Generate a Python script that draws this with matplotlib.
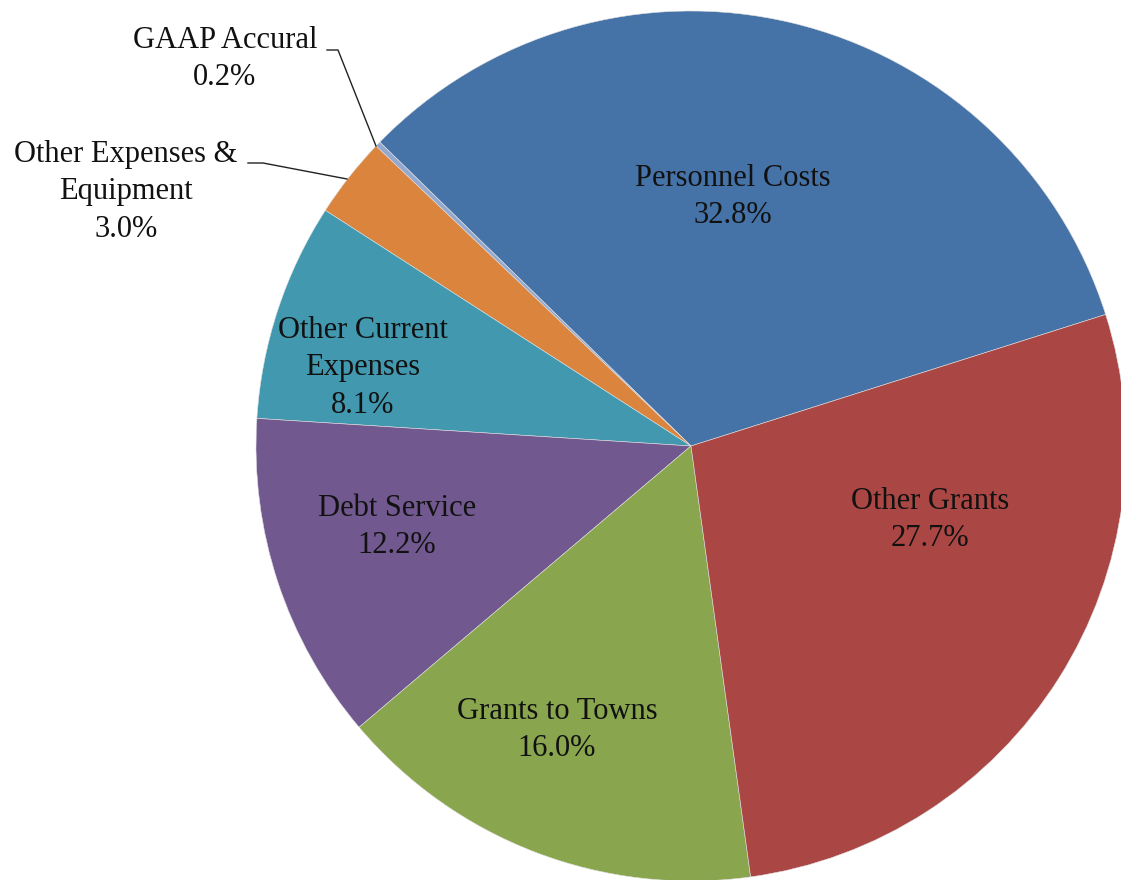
import matplotlib.pyplot as plt

labels = ['Personnel Costs', 'GAAP Accural', 'Other Expenses &\nEquipment',
          'Other Current\nExpenses', 'Debt Service', 'Grants to Towns', 'Other Grants']
shares = [32.8, 0.2, 3.0, 8.1, 12.2, 16.0, 27.7]
colors = ['#4572A7', '#93A9CF', '#DB843D', '#4198AF', '#71588F', '#89A54E', '#AA4643']

W, H = 1121, 880
cx, cy, R = 691, 446, 435


def px(x, y):
    # pixel position in the reference -> data units (pie radius = 1)
    return (x - cx) / R, (cy - y) / R


fig = plt.figure(figsize=(W / 100, H / 100), dpi=100)
ax = fig.add_axes([0, 0, 1, 1])
plt.rcParams['font.family'] = ['Liberation Serif', 'DejaVu Serif']

ax.pie(shares, colors=colors, startangle=17.6, counterclock=True,
       wedgeprops=dict(linewidth=0.4, edgecolor='#e0e0e0'))
ax.set_xlim(-cx / R, (W - cx) / R)
ax.set_ylim(-(H - cy) / R, cy / R)
ax.set_aspect('equal')
ax.axis('off')

fs = 22
ls = 1.4
# inside labels
inside = {0: (733, 197), 6: (930, 520), 5: (557, 730), 4: (397, 527), 3: (363, 368)}
for i, (x, y) in inside.items():
    ax.text(*px(x, y), '%s\n%.1f%%' % (labels[i], shares[i]), ha='center', va='center',
            fontsize=fs, linespacing=ls, color='#111111')

# outside labels with leader lines
ax.text(*px(225, 59), '%s\n%.1f%%' % (labels[1], shares[1]), ha='center', va='center',
        fontsize=fs, linespacing=ls, color='#111111')
ax.plot(*zip(px(327, 50), px(338, 50), px(376, 146)), color='#222222', lw=1)

ax.text(*px(126, 192), '%s\n%.1f%%' % (labels[2], shares[2]), ha='center', va='center',
        fontsize=fs, linespacing=ls, color='#111111')
ax.plot(*zip(px(248, 163), px(263, 163), px(347, 179)), color='#222222', lw=1)

fig.savefig('out.png', dpi=100)
